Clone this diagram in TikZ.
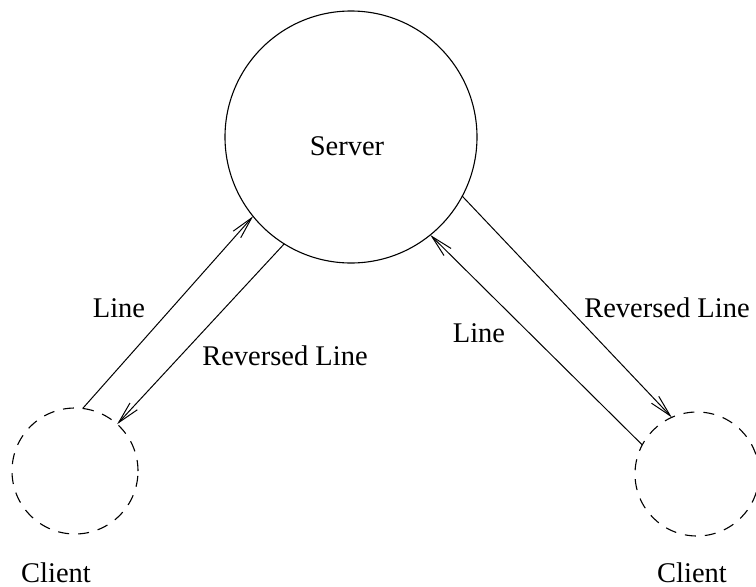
\documentclass[tikz,border=0pt]{standalone}
\usepackage{fontspec}
\setmainfont{Liberation Serif}
\usetikzlibrary{arrows.meta}
\tikzset{
  srvcircle/.style={circle,draw,line width=1.1pt,minimum size=252pt,inner sep=0pt,outer sep=0pt},
  clcircle/.style={circle,draw,line width=1.1pt,dash pattern=on 11pt off 9pt,inner sep=0pt,outer sep=0pt},
  lbl/.style={inner sep=0pt,anchor=base,font=\fontsize{28.5}{34}\selectfont},
  conn/.style={line width=1pt,-{Straight Barb[length=22pt,width=10pt,line width=1pt]}}
}
\begin{document}
\begin{tikzpicture}[x=1pt,y=-1pt]
\useasboundingbox (0,0) rectangle (756,587);
\node[srvcircle] (srv) at (351,137) {};
\node[clcircle,minimum size=126pt] (lc) at (75,471) {};
\node[clcircle,minimum size=124pt] (rc) at (697,474) {};
\node[lbl] (srvlbl) at (347,155) {Server};
\node[lbl] (lclbl) at (56,582) {Client};
\node[lbl] (rclbl) at (692,582) {Client};
\node[lbl] (l1) at (119,317) {Line};
\node[lbl] (r1) at (285,365) {Reversed Line};
\node[lbl] (l2) at (479,342) {Line};
\node[lbl] (r2) at (667,317) {Reversed Line};
\draw[conn] (lc.83) -- (srv.219.5);
\draw[conn] (srv.238.6) -- (lc.48);
\draw[conn] (rc.152.6) -- (srv.309.5);
\draw[conn] (srv.332.2) -- (rc.114.3);
\end{tikzpicture}
\end{document}
